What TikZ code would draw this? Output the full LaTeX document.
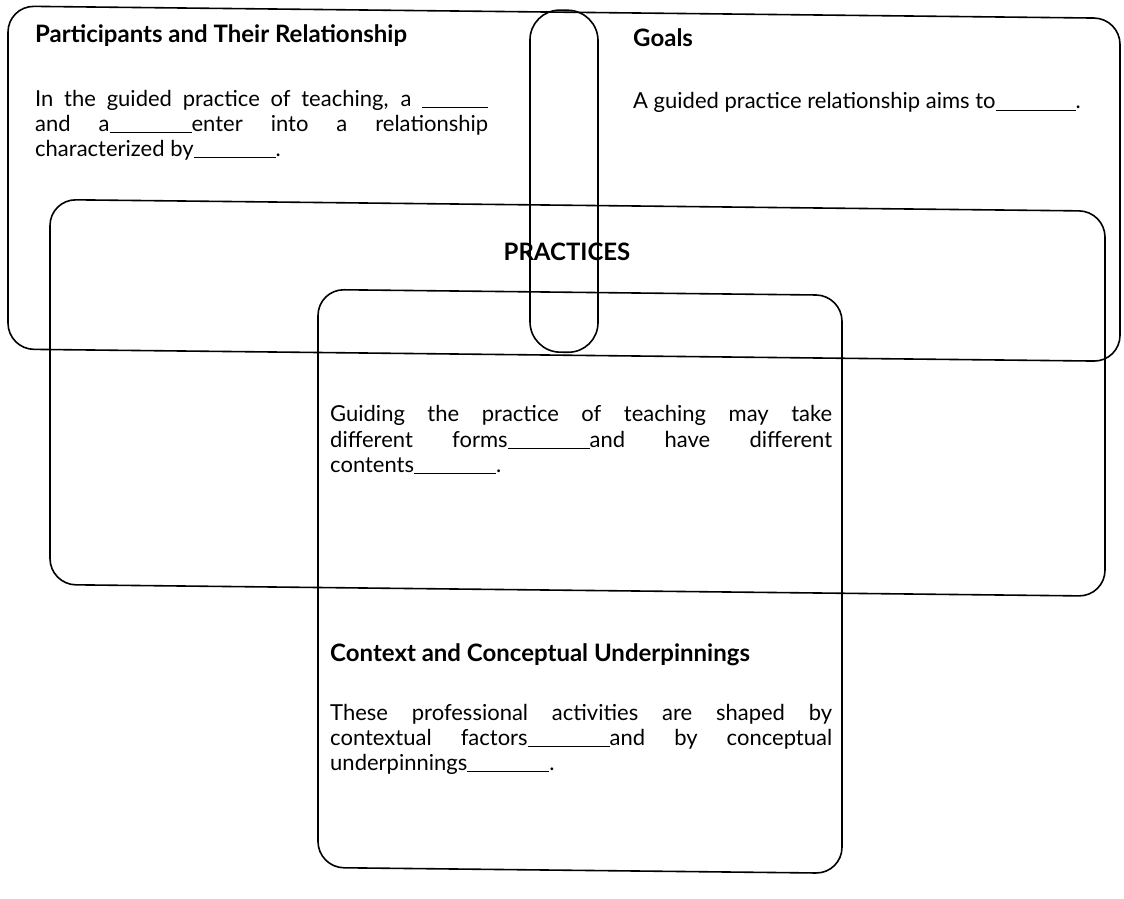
\documentclass[tikz,border=0pt]{standalone}
\usepackage{fontspec}
\setmainfont{Lato}
\newcommand{\blank}{\rule[-1.5pt]{82pt}{0.9pt}}
\begin{document}
\begin{tikzpicture}[x=1pt,y=-1pt,
  box/.style={draw, line width=1.6pt, rounded corners=26pt},
  pill/.style={draw, line width=1.6pt, rounded corners=30pt},
  title/.style={anchor=base west, inner sep=0pt, font=\bfseries\fontsize{24}{28}\selectfont},
  body/.style={anchor=base west, inner sep=0pt, font=\fontsize{22}{26}\selectfont}]
\useasboundingbox (0,0) rectangle (1124,899);
\begin{scope}[yslant=-0.011]
% shapes
\draw[box] (8,6) rectangle (1120,349);
\draw[box] (50,199) rectangle (1105,584);
\draw[pill] (530,4) rectangle (598,346);
\draw[box] (318,286) rectangle (842,864);
% top-left box texts
\node[title] (t1) at (35,42) {Participants and Their Relationship};
\node[body] (p1a) at (35,106) {\makebox[453pt][s]{In the guided practice of teaching, a \rule[-1.5pt]{66pt}{0.9pt}}};
\node[body] (p1b) at (35,131) {\makebox[453pt][s]{and a\blank enter into a relationship}};
\node[body] (p1c) at (35,156) {characterized by\blank.};
% goals
\node[title] (t2) at (633,40) {Goals};
\node[body] (p2) at (633,102) {A guided practice relationship aims to\rule[-1.5pt]{80pt}{0.9pt}.};
% practices
\node[anchor=base, inner sep=0pt, font=\bfseries\fontsize{24}{28}\selectfont] (t3) at (567,254) {PRACTICES};
\node[body] (p3a) at (330,418) {\makebox[502pt][s]{Guiding the practice of teaching may take}};
\node[body] (p3b) at (330,443.5) {\makebox[502pt][s]{different forms\blank and have different}};
\node[body] (p3c) at (330,469) {contents\blank.};
% context
\node[title] (t4) at (330,658) {Context and Conceptual Underpinnings};
\node[body] (p4a) at (330,717) {\makebox[502pt][s]{These professional activities are shaped by}};
\node[body] (p4b) at (330,742) {\makebox[502pt][s]{contextual factors\blank and by conceptual}};
\node[body] (p4c) at (330,767) {underpinnings\blank.};
\end{scope}
\end{tikzpicture}
\end{document}
